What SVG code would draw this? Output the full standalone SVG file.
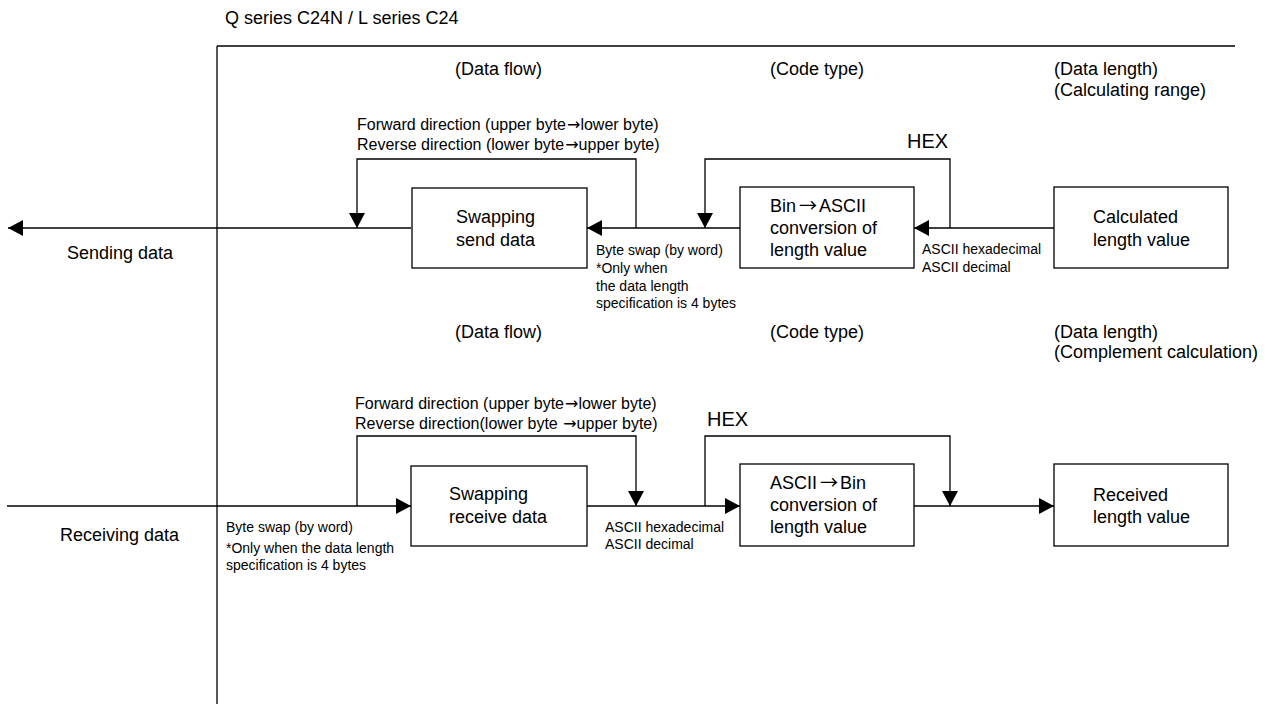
<svg xmlns="http://www.w3.org/2000/svg" width="1277" height="704" viewBox="0 0 1277 704">
<style>
text{font-family:"Liberation Sans",Arial,"Noto Sans CJK JP",sans-serif;fill:#000}
.h{font-size:18px}
.n{font-size:18px}
.m{font-size:16px}
.s{font-size:14px}
.x{font-size:20px}
.ar{font-family:"Noto Sans CJK JP",sans-serif}
.ad{font-family:"DejaVu Sans",sans-serif}
.box{fill:#fff;stroke:#000;stroke-width:1.3}
.ln{fill:none;stroke:#000;stroke-width:1.3}
</style>
<defs>
<marker id="ah" markerWidth="15" markerHeight="16" refX="15" refY="8" orient="auto" markerUnits="userSpaceOnUse"><path d="M0,0 L15,8 L0,16 z" fill="#000"/></marker>
</defs>
<g id="frame">
<path class="ln" d="M217,46 V704 M217,46 H1235"/>
<text class="h" x="225" y="24">Q series C24N / L series C24</text>
</g>
<g id="connectors">
<path class="ln" d="M411,228 H8" marker-end="url(#ah)"/>
<path class="ln" d="M636,228 V159 H357 V228" marker-end="url(#ah)"/>
<path class="ln" d="M740,228 H587" marker-end="url(#ah)"/>
<path class="ln" d="M950,228 V159 H705 V228" marker-end="url(#ah)"/>
<path class="ln" d="M1054,228 H914" marker-end="url(#ah)"/>
<path class="ln" d="M7,506 H411" marker-end="url(#ah)"/>
<path class="ln" d="M357,506 V436 H636 V506" marker-end="url(#ah)"/>
<path class="ln" d="M587,506 H740" marker-end="url(#ah)"/>
<path class="ln" d="M705,506 V436 H950 V506" marker-end="url(#ah)"/>
<path class="ln" d="M914,506 H1054" marker-end="url(#ah)"/>
</g>
<g id="labels-send">
<text class="h" x="455" y="75">(Data flow)</text>
<text class="h" x="770" y="75">(Code type)</text>
<text class="h" x="1054" y="75">(Data length)</text>
<text class="h" x="1054" y="96">(Calculating range)</text>
<text class="m" x="357" y="130">Forward direction (upper byte<tspan class="ad" dx="1">→</tspan>lower byte)</text>
<text class="m" x="357" y="150">Reverse direction (lower byte<tspan class="ad" dx="1">→</tspan>upper byte)</text>
<text class="x" x="907" y="148">HEX</text>
<text class="s" x="596" y="255">Byte swap (by word)</text>
<text class="s" x="596" y="273">*Only when</text>
<text class="s" x="596" y="291">the data length</text>
<text class="s" x="596" y="308">specification is 4 bytes</text>
<text class="s" x="922" y="254">ASCII hexadecimal</text>
<text class="s" x="922" y="272">ASCII decimal</text>
<text class="n" x="67" y="259">Sending data</text>
</g>
<g id="labels-receive">
<text class="h" x="455" y="338">(Data flow)</text>
<text class="h" x="770" y="338">(Code type)</text>
<text class="h" x="1054" y="338">(Data length)</text>
<text class="h" x="1054" y="358">(Complement calculation)</text>
<text class="m" x="355" y="409">Forward direction (upper byte<tspan class="ad" dx="1">→</tspan>lower byte)</text>
<text class="m" x="355" y="429">Reverse direction(lower byte <tspan class="ad" dx="1">→</tspan>upper byte)</text>
<text class="x" x="707" y="426">HEX</text>
<text class="n" x="60" y="541">Receiving data</text>
<text class="s" x="226" y="532">Byte swap (by word)</text>
<text class="s" x="226" y="553">*Only when the data length</text>
<text class="s" x="226" y="570">specification is 4 bytes</text>
<text class="s" x="605" y="532">ASCII hexadecimal</text>
<text class="s" x="605" y="549">ASCII decimal</text>
</g>
<g id="swap-send">
<rect class="box" x="412" y="188" width="175" height="80"/>
<text class="n" x="456" y="223">Swapping</text>
<text class="n" x="456" y="246">send data</text>
</g>
<g id="bin-ascii">
<rect class="box" x="740" y="187" width="174" height="81"/>
<text class="n" x="770" y="212">Bin<tspan class="ar" dx="3">→</tspan><tspan dx="2">ASCII</tspan></text>
<text class="n" x="770" y="234">conversion of</text>
<text class="n" x="770" y="256">length value</text>
</g>
<g id="calculated">
<rect class="box" x="1054" y="187" width="174" height="81"/>
<text class="n" x="1093" y="223">Calculated</text>
<text class="n" x="1093" y="246">length value</text>
</g>
<g id="swap-receive">
<rect class="box" x="411" y="466" width="176" height="80"/>
<text class="n" x="449" y="500">Swapping</text>
<text class="n" x="449" y="523">receive data</text>
</g>
<g id="ascii-bin">
<rect class="box" x="740" y="464" width="174" height="82"/>
<text class="n" x="770" y="489">ASCII<tspan class="ar" dx="3">→</tspan><tspan dx="2">Bin</tspan></text>
<text class="n" x="770" y="511">conversion of</text>
<text class="n" x="770" y="533">length value</text>
</g>
<g id="received">
<rect class="box" x="1054" y="464" width="174" height="82"/>
<text class="n" x="1093" y="501">Received</text>
<text class="n" x="1093" y="523">length value</text>
</g>
</svg>
